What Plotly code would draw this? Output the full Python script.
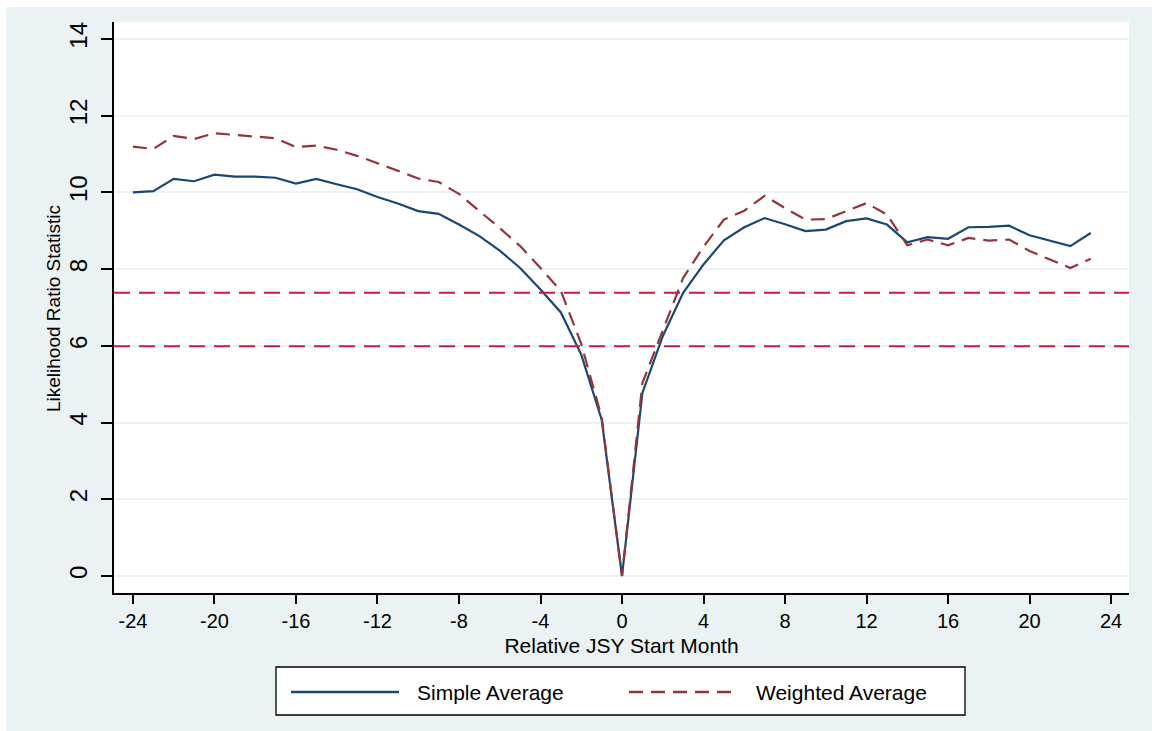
import plotly.graph_objects as go

# Relative month since JSY start
months = list(range(-24, 24))

# Likelihood ratio statistics
simple_avg = [10.00, 10.03, 10.35, 10.29, 10.46, 10.41, 10.41, 10.38, 10.23, 10.35,
              10.21, 10.08, 9.88, 9.71, 9.51, 9.44, 9.16, 8.86, 8.48, 8.03,
              7.47, 6.87, 5.77, 4.08,
              0.00, 4.77, 6.25, 7.38, 8.12, 8.75, 9.09, 9.33, 9.17, 8.99,
              9.03, 9.25, 9.32, 9.16, 8.70, 8.83, 8.79, 9.09, 9.10, 9.13,
              8.88, 8.74, 8.60, 8.94]
weighted_avg = [11.19, 11.13, 11.47, 11.39, 11.54, 11.50, 11.46, 11.41, 11.18, 11.22,
                11.11, 10.95, 10.76, 10.57, 10.36, 10.27, 9.96, 9.51, 9.07, 8.60,
                8.03, 7.43, 6.05, 4.14,
                0.00, 5.03, 6.42, 7.77, 8.58, 9.29, 9.52, 9.91, 9.59, 9.29,
                9.30, 9.51, 9.72, 9.42, 8.62, 8.77, 8.62, 8.81, 8.74, 8.77,
                8.47, 8.25, 8.03, 8.27]

# Critical values drawn as reference lines
critical_values = [5.99, 7.38]

x_ticks = list(range(-24, 25, 4))
x_ticktext = [str(v) for v in x_ticks]
y_ticks = list(range(0, 15, 2))
y_ticktext = [str(v) for v in y_ticks]

NAVY = "#1A476F"
MAROON = "#90353B"
CRIMSON = "#C91A45"
BG = "#EAF2F3"
FONT = "Liberation Sans, Arial, Helvetica, sans-serif"

W, H = 1152, 731
L, R, T, B = 114, 23, 22, 138
PW, PH = W - L - R, H - T - B


def px(xpix):
    return (xpix - L) / PW


def py(ypix):
    return (H - B - ypix) / PH


fig = go.Figure()
fig.add_trace(go.Scatter(x=months, y=simple_avg, mode="lines", name="Simple Average",
                         line=dict(color=NAVY, width=2.2), showlegend=False))
fig.add_trace(go.Scatter(x=months, y=weighted_avg, mode="lines", name="Weighted Average",
                         line=dict(color=MAROON, width=2.2, dash="14px,8px"),
                         showlegend=False))

shapes = []
# thin white border around the graph region
shapes.append(dict(type="rect", xref="paper", yref="paper", x0=px(0), x1=px(W),
                   y0=py(7), y1=py(0), fillcolor="white", line=dict(width=0),
                   layer="below"))
shapes.append(dict(type="rect", xref="paper", yref="paper", x0=px(0), x1=px(6),
                   y0=py(H), y1=py(0), fillcolor="white", line=dict(width=0),
                   layer="below"))
for cv in critical_values:
    shapes.append(dict(type="line", xref="paper", yref="y", x0=0, x1=1, y0=cv, y1=cv,
                       line=dict(color=CRIMSON, width=2, dash="16px,9px")))

# legend box
ly = py(692)
shapes.append(dict(type="rect", xref="paper", yref="paper", x0=px(276), x1=px(965),
                   y0=py(715), y1=py(667), fillcolor="white",
                   line=dict(color="black", width=1.3)))
shapes.append(dict(type="line", xref="paper", yref="paper", x0=px(291), x1=px(399),
                   y0=ly, y1=ly, line=dict(color=NAVY, width=2.4)))
shapes.append(dict(type="line", xref="paper", yref="paper", x0=px(629), x1=px(738),
                   y0=ly, y1=ly, line=dict(color=MAROON, width=2.4, dash="14px,8px")))

annotations = [
    dict(text="Simple Average", xref="paper", yref="paper", x=px(415), y=ly,
         xanchor="left", yanchor="middle", showarrow=False,
         font=dict(size=21, color="black", family=FONT)),
    dict(text="Weighted Average", xref="paper", yref="paper", x=px(754), y=ly,
         xanchor="left", yanchor="middle", showarrow=False,
         font=dict(size=21, color="black", family=FONT)),
    # y-axis title
    dict(text="Likelihood Ratio Statistic", xref="paper", yref="paper",
         x=px(53), y=py(309), xanchor="center", yanchor="middle", textangle=-90,
         showarrow=False, font=dict(size=19, color="black", family=FONT)),
]

fig.update_layout(
    width=W, height=H,
    margin=dict(l=L, r=R, t=T, b=B),
    paper_bgcolor=BG, plot_bgcolor="white",
    font=dict(family=FONT, color="black"),
    shapes=shapes, annotations=annotations,
    showlegend=False,
)
fig.update_xaxes(
    range=[-24.93, 24.88], tickvals=x_ticks, ticktext=x_ticktext,
    showgrid=False, zeroline=False,
    showline=True, linecolor="black", linewidth=1.5,
    ticks="outside", ticklen=9, tickwidth=1.5, tickcolor="black",
    tickfont=dict(size=20),
    title=dict(text="Relative JSY Start Month", font=dict(size=21), standoff=8),
)
fig.update_yaxes(
    range=[-0.443, 14.44], tickvals=y_ticks, ticktext=y_ticktext,
    showgrid=True, gridcolor=BG, gridwidth=1.6,
    zeroline=False, showline=True, linecolor="black", linewidth=1.5,
    ticks="outside", ticklen=11, tickwidth=1.5, tickcolor="black",
    tickangle=-90, tickfont=dict(size=24), ticklabelstandoff=5,
)

fig.write_html("out.html")
